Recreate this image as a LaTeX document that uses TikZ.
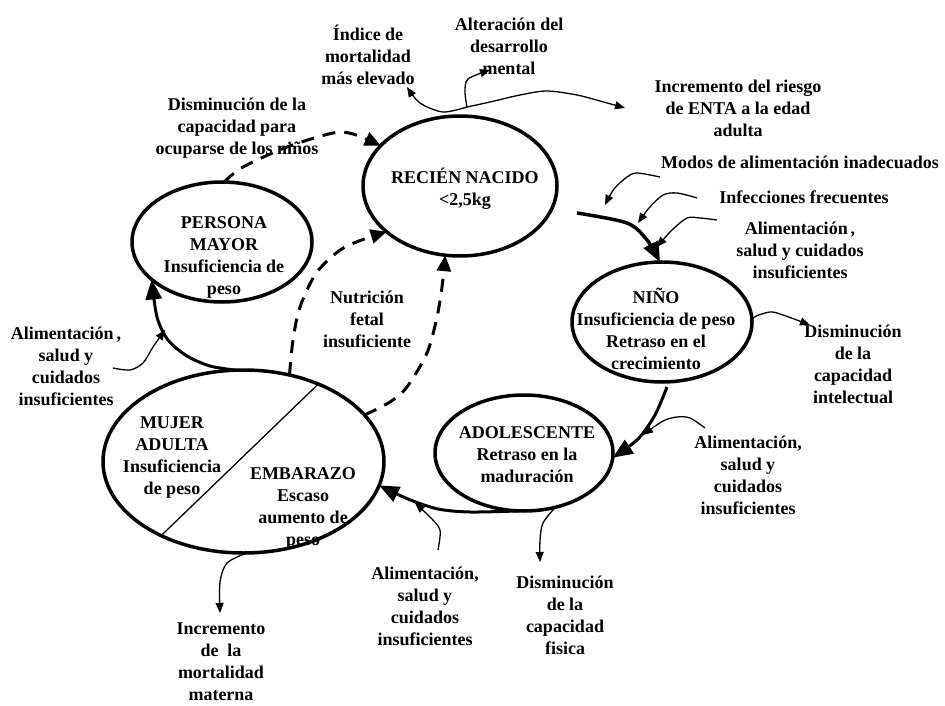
\documentclass[tikz,border=0pt]{standalone}
\usepackage{fontspec}
\setmainfont{Liberation Serif}
\usetikzlibrary{shapes.geometric,arrows.meta}
\begin{document}
\begin{tikzpicture}[x=1pt,y=-1pt,
  oval/.style={draw, ellipse, line width=3.5pt, inner sep=0pt, outer sep=0pt},
  lbl/.style={font=\fontsize{18}{22}\selectfont\bfseries, align=center, inner sep=0pt},
  cyc/.style={line width=3pt, -{Triangle[length=20pt,width=16pt]}},
  dsh/.style={line width=3pt, dash pattern=on 13pt off 9pt, -{Triangle[length=16pt,width=14pt]}},
  thinarr/.style={line width=1.3pt, -{Triangle[length=10pt,width=8pt]}}]
\useasboundingbox (0,0) rectangle (945,706);

% ovals
\node[oval, minimum width=194, minimum height=140] (rn) at (460,186) {};
\node[oval, minimum width=180, minimum height=120] (pm) at (222,242) {};
\node[oval, minimum width=180, minimum height=120] (nino) at (662,322) {};
\node[oval, minimum width=178, minimum height=116] (adol) at (524,453) {};
\node[oval, minimum width=281, minimum height=183] (mujer) at (243.5,461.5) {};
\draw[line width=1.3pt] (mujer.222) -- (mujer.46);

% oval texts
\node[lbl] (trn) at (465,189) {RECIÉN NACIDO\\<2,5kg};
\node[lbl] (tpm) at (224,257.5) {PERSONA\\MAYOR\\Insuficiencia de\\peso};
\node[lbl] (tnino) at (656,329) {NIÑO\\Insuficiencia de peso\\Retraso en el\\crecimiento};
\node[lbl] (tadol) at (527,455) {ADOLESCENTE\\Retraso en la\\maduración};
\node[lbl] (tmuj) at (172,458) {MUJER\\ADULTA\\Insuficiencia\\de peso};
\node[lbl] (temb) at (303,508) {EMBARAZO\\Escaso\\aumento de\\peso};

% other labels
\node[lbl] (indice) at (368,55) {Índice de\\mortalidad\\más elevado};
\node[lbl] (alter) at (509,46) {Alteración del\\desarrollo\\mental};
\node[lbl] (enta) at (738,108) {Incremento del riesgo\\de ENTA a la edad\\adulta};
\node[lbl] (cuidar) at (237,128) {Disminución de la\\capacidad para\\ocuparse de los niños};
\node[lbl] (modos) at (800,162) {Modos de alimentación inadecuados};
\node[lbl] (infec) at (804,197) {Infecciones frecuentes};
\node[lbl] (alim1) at (800,250) {Alimentación\,,\\salud y cuidados\\insuficientes};
\node[lbl] (fetal) at (367,319) {Nutrición\\fetal\\insuficiente};
\node[lbl] (intel) at (853,364) {Disminución\\de la\\capacidad\\intelectual};
\node[lbl] (alim2) at (748,475) {Alimentación,\\salud y\\cuidados\\insuficientes};
\node[lbl] (alim3) at (66,366) {Alimentación\,,\\salud y\\cuidados\\insuficientes};
\node[lbl] (alim4) at (425,606) {Alimentación,\\salud y\\cuidados\\insuficientes};
\node[lbl] (fisica) at (565,615.5) {Disminución\\de la\\capacidad\\fisica};
\node[lbl] (mater) at (221,662) {Incremento\\de~~la\\mortalidad\\materna};

% main cycle
\coordinate (aS) at (577,213);
\draw[cyc, line width=3.5pt] plot[smooth] coordinates {(aS) (627,223) (647,240) (nino.92)};
\coordinate (bS) at (667,387);
\draw[cyc] plot[smooth] coordinates {(bS) (655,415) (638,439) (adol.-3)};
\draw[cyc] plot[smooth] coordinates {(adol.265) (470,512) (438,509) (408,499) (mujer.-10)};
\draw[cyc] plot[smooth] coordinates {(mujer.95) (210,366) (187,356) (168,340) (157,317) (pm.208)};

% dashed arrows
\draw[dsh] plot[smooth] coordinates {(pm.88) (243,167) (287,147) (333,133) (353,134) (rn.153)};
\draw[dsh] plot[smooth] coordinates {(mujer.62) (293,340) (300,307) (317,272) (345,247) (rn.212)};
\draw[dsh] plot[smooth] coordinates {(mujer.21) (390,402) (407,387) (427,353) (437,317) (442,287) (rn.258)};

% thin arrows at top
\coordinate (split) at (467,107);
\draw[thinarr] plot[smooth] coordinates {(split) (443,112) (420,103) (407,87)};
\draw[thinarr] plot[smooth] coordinates {(split) (465,92) (468,79) (490,70)};
\draw[thinarr] plot[smooth] coordinates {(split) (490,102) (520,95) (547,91) (577,95) (600,101) (625,108)};

% thin arrows into RN -> NINO
\coordinate (m1) at (660,177);
\draw[thinarr] plot[smooth] coordinates {(m1) (637,173) (627,177) (614,189) (605,205)};
\coordinate (m2) at (697,198);
\draw[thinarr] plot[smooth] coordinates {(m2) (677,193) (663,195) (649,208) (638,223)};
\coordinate (m3) at (717,220);
\draw[thinarr] plot[smooth] coordinates {(m3) (700,218) (687,218) (671,231) (657,247)};

% other thin arrows
\draw[thinarr] plot[smooth] coordinates {(nino.-5) (753,318) (770,312) (783,315) (810,325)};
\coordinate (r2) at (705,428);
\draw[thinarr] plot[smooth] coordinates {(r2) (690,418) (677,417) (663,421) (643,435)};
\draw[thinarr] plot[smooth] coordinates {(adol.-60) (543,523) (540,540) (540,562)};
\coordinate (r4) at (438,550);
\draw[thinarr] plot[smooth] coordinates {(r4) (440,530) (430,517) (415,503)};
\draw[thinarr] plot[smooth] coordinates {(mujer.-88) (227,563) (220,582) (220,613)};
\coordinate (r3) at (113,368);
\draw[thinarr] plot[smooth] coordinates {(r3) (130,370) (143,363) (153,347) (165,330)};
\end{tikzpicture}
\end{document}
